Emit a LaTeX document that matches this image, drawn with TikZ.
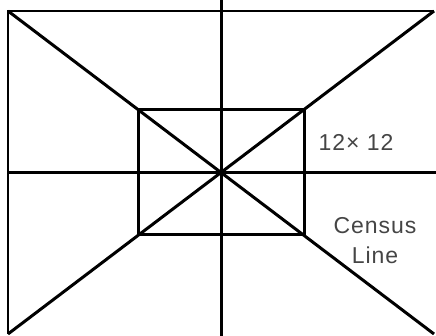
\documentclass[tikz,border=0pt]{standalone}
\usepackage{fontspec}
\setmainfont[LetterSpace=4]{Liberation Sans}
\usepackage{xcolor}
\usepackage{tikz}
\usetikzlibrary{positioning}
\definecolor{labelgray}{HTML}{454545}

\begin{document}
\begin{tikzpicture}[x=1pt, y=-1pt,
    grid line/.style={line width=3pt},
    frame line/.style={line width=2.4pt},
    label text/.style={font=\fontsize{23}{30}\selectfont, text=labelgray, align=center}]
  \useasboundingbox (0,0) rectangle (436,336);

  % Esquinas del marco exterior
  \coordinate (tl) at (8,11);
  \coordinate (tr) at (434,11);
  \coordinate (bl) at (8,334);
  \coordinate (br) at (434,334);
  \coordinate (c)  at (221,172.5);

  % Marco (solo arriba e izquierda)
  \draw[frame line] (bl) -- (tl) -- (tr);

  % Ejes por el centro
  \coordinate (vtop) at (221,0);
  \coordinate (vbot) at (221,336);
  \coordinate (hleft) at (8,172.5);
  \coordinate (hright) at (436,172.5);
  \draw[grid line] (vtop) -- (vbot);
  \draw[grid line] (hleft) -- (hright);

  % Diagonales
  \draw[grid line] (tl) -- (br);
  \draw[grid line] (bl) -- (tr);

  % Cuadro interior
  \draw[grid line] (138,110) rectangle (304,235);

  % Rotulos
  \node[label text] (size) at (356,142) {12× 12};
  \node[label text] (census) at (375,241) {Census\\Line};
\end{tikzpicture}
\end{document}
